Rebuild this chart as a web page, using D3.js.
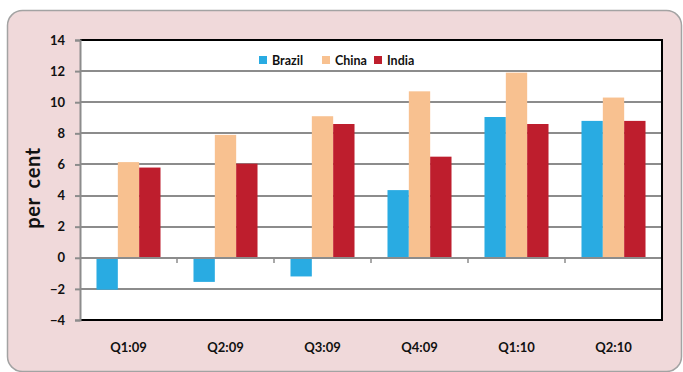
<!DOCTYPE html>
<html>
<head>
<meta charset="utf-8">
<script src="https://cdn.jsdelivr.net/npm/d3@7"></script>
<style>
  body { margin: 0; background: #fff; }
  svg text { font-family: Lato, "Open Sans", sans-serif; font-weight: bold; fill: #111; }
</style>
</head>
<body>
<script>
// data
var quarters = ["Q1:09", "Q2:09", "Q3:09", "Q4:09", "Q1:10", "Q2:10"];
var seriesNames = ["Brazil", "China", "India"];
var brazil = [-2.05, -1.55, -1.2, 4.35, 9.05, 8.8];
var china = [6.15, 7.9, 9.1, 10.7, 11.9, 10.3];
var india = [5.8, 6.05, 8.6, 6.5, 8.6, 8.8];
var yTicks = [-4, -2, 0, 2, 4, 6, 8, 10, 12, 14];
var colours = ["#29abe2", "#f8c190", "#be1e2d"];

var values = [brazil, china, india];

var W = 683, H = 372;
var margin = {top: 40, right: 21, bottom: 52, left: 80};

var svg = d3.select("body").append("svg")
    .attr("width", W)
    .attr("height", H);

// pink frame
svg.append("rect")
    .attr("x", 7.5).attr("y", 10.5)
    .attr("width", 674).attr("height", 361)
    .attr("rx", 15)
    .attr("fill", "#f0d9da")
    .attr("stroke", "#a3a3a3")
    .attr("stroke-width", 1.5);

var x0 = d3.scaleBand()
    .domain(quarters)
    .range([margin.left, W - margin.right]);

var x1 = d3.scaleBand()
    .domain(seriesNames)
    .range([x0.bandwidth() * 0.17, x0.bandwidth() * 0.83]);

var y = d3.scaleLinear()
    .domain([-4, 14])
    .range([H - margin.bottom, margin.top]);

// plot area
svg.append("rect")
    .attr("x", margin.left).attr("y", margin.top)
    .attr("width", W - margin.right - margin.left)
    .attr("height", H - margin.bottom - margin.top)
    .attr("fill", "#fff");

// gridlines
svg.append("g")
    .selectAll("line")
    .data(yTicks.filter(function (d) { return d !== -4 && d !== 14; }))
    .enter().append("line")
    .attr("x1", margin.left)
    .attr("x2", W - margin.right)
    .attr("y1", function (d) { return Math.round(y(d)); })
    .attr("y2", function (d) { return Math.round(y(d)); })
    .attr("stroke", "#8c8c8c")
    .attr("stroke-width", 2);

// bars
var groups = svg.append("g")
    .selectAll("g")
    .data(quarters)
    .enter().append("g")
    .attr("transform", function (d) { return "translate(" + x0(d) + ",0)"; });

groups.selectAll("rect")
    .data(function (q, i) {
        return seriesNames.map(function (s, j) {
            return {name: s, value: values[j][i], colour: colours[j]};
        });
    })
    .enter().append("rect")
    .attr("x", function (d) { return x1(d.name); })
    .attr("width", x1.bandwidth())
    .attr("y", function (d) { return y(Math.max(0, d.value)); })
    .attr("height", function (d) { return Math.abs(y(d.value) - y(0)); })
    .attr("fill", function (d) { return d.colour; });

// zero line with category ticks
var zeroY = Math.round(y(0));
svg.append("line")
    .attr("x1", margin.left).attr("x2", W - margin.right)
    .attr("y1", zeroY).attr("y2", zeroY)
    .attr("stroke", "#8c8c8c")
    .attr("stroke-width", 2);

svg.append("g")
    .selectAll("line")
    .data(quarters.slice(1))
    .enter().append("line")
    .attr("x1", function (d) { return x0(d); })
    .attr("x2", function (d) { return x0(d); })
    .attr("y1", zeroY).attr("y2", zeroY + 5)
    .attr("stroke", "#8c8c8c")
    .attr("stroke-width", 1.5);

// black border top, right, bottom
var yTop = y(14), yBot = y(-4), xR = W - margin.right;
svg.append("path")
    .attr("d", "M" + margin.left + "," + yTop + "H" + xR + "V" + yBot + "H" + margin.left)
    .attr("fill", "none")
    .attr("stroke", "#000")
    .attr("stroke-width", 2);

// y axis
var yAxis = svg.append("g")
    .attr("transform", "translate(" + margin.left + ",0)")
    .call(d3.axisLeft(y).tickValues(yTicks).tickSize(5).tickPadding(10));
yAxis.select(".domain").attr("stroke", "#8c8c8c").attr("stroke-width", 2);
yAxis.selectAll(".tick line").attr("stroke", "#8c8c8c").attr("stroke-width", 2);
yAxis.selectAll(".tick text")
    .style("font-size", "13px")
    .attr("fill", "#111");

// x labels
svg.append("g")
    .selectAll("text")
    .data(quarters)
    .enter().append("text")
    .attr("x", function (d) { return x0(d) + x0.bandwidth() / 2; })
    .attr("y", 352)
    .attr("text-anchor", "middle")
    .style("font-size", "13px")
    .text(function (d) { return d; });

// y title
svg.append("text")
    .attr("transform", "translate(40,188) rotate(-90)")
    .attr("text-anchor", "middle")
    .style("font-size", "20px")
    .style("letter-spacing", "0.6px")
    .style("word-spacing", "4px")
    .text("per cent");

// legend
var legendX = [259, 322, 374];
var legend = svg.append("g")
    .selectAll("g")
    .data(seriesNames)
    .enter().append("g")
    .attr("transform", function (d, i) { return "translate(" + legendX[i] + ",56)"; });
legend.append("rect")
    .attr("width", 8).attr("height", 8)
    .attr("fill", function (d, i) { return colours[i]; });
legend.append("text")
    .attr("x", 13).attr("y", 8.5)
    .style("font-size", "12.5px")
    .text(function (d) { return d; });
</script>
</body>
</html>
